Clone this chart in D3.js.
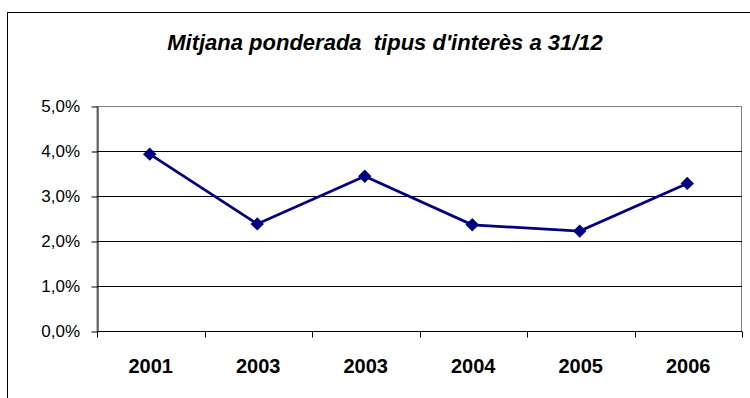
<!DOCTYPE html>
<html>
<head>
<meta charset="utf-8">
<script src="https://cdn.jsdelivr.net/npm/d3@7/dist/d3.min.js"></script>
<style>
  html, body { margin: 0; padding: 0; background: #fff; }
  svg { display: block; font-family: "Liberation Sans", Arial, sans-serif; }
</style>
</head>
<body>
<svg id="chart" width="750" height="398"></svg>
<script>
// Weighted average interest rate at 31/12 (%)
const categories = ["2001", "2003", "2003", "2004", "2005", "2006"];
const rates = [3.93, 2.38, 3.44, 2.36, 2.22, 3.28];
const yTicks = [0, 1, 2, 3, 4, 5];
const title = "Mitjana ponderada  tipus d'interès a 31/12";

const svg = d3.select("#chart");
const W = 750, H = 398;
const plot = { left: 97, right: 742, top: 106, bottom: 331 };

// outer chart frame
svg.append("rect")
  .attr("x", 7.5).attr("y", 12.5)
  .attr("width", W + 20).attr("height", H + 20)
  .attr("fill", "#fff").attr("stroke", "#000").attr("stroke-width", 1);

svg.append("text")
  .attr("x", 385).attr("y", 50)
  .attr("text-anchor", "middle")
  .attr("font-size", 22).attr("font-weight", "bold").attr("font-style", "italic")
  .attr("fill", "#000")
  .style("white-space", "pre")
  .text(title);

const idx = categories.map((_, i) => i);
const x = d3.scaleBand().domain(idx).range([plot.left, plot.right]);
const y = d3.scaleLinear().domain([0, 5]).range([plot.bottom, plot.top]);

// plot area border (grey)
svg.append("rect")
  .attr("x", plot.left).attr("y", plot.top + 0.5)
  .attr("width", plot.right - plot.left - 0.5)
  .attr("height", plot.bottom - plot.top)
  .attr("fill", "none").attr("stroke", "#808080").attr("stroke-width", 1);

// horizontal gridlines
svg.append("g")
  .selectAll("line")
  .data(yTicks.filter(t => t > 0 && t < 5))
  .join("line")
  .attr("x1", plot.left).attr("x2", plot.right)
  .attr("y1", d => Math.round(y(d)) + 0.5).attr("y2", d => Math.round(y(d)) + 0.5)
  .attr("stroke", "#000").attr("stroke-width", 1);

// y axis line and ticks
const yAxis = svg.append("g")
  .attr("transform", `translate(${plot.left + 0.5},0.5)`)
  .call(d3.axisLeft(y).tickValues(yTicks).tickFormat("").tickSize(6).tickSizeOuter(0));
yAxis.select(".domain").attr("stroke", "#000");
yAxis.selectAll(".tick line").attr("stroke", "#000");

// y tick labels
const fmt = d => d3.format(".1f")(d).replace(".", ",") + "%";
svg.append("g")
  .selectAll("text")
  .data(yTicks)
  .join("text")
  .attr("x", 80)
  .attr("y", d => y(d))
  .attr("dy", "0.36em")
  .attr("text-anchor", "end")
  .attr("font-size", 17)
  .attr("fill", "#000")
  .text(fmt);

// x axis: ticks between categories
const xAxis = svg.append("g")
  .attr("transform", `translate(0,${plot.bottom + 0.5})`);
xAxis.append("line")
  .attr("x1", plot.left).attr("x2", plot.right)
  .attr("stroke", "#000");
xAxis.selectAll("line.sep")
  .data(d3.range(categories.length + 1))
  .join("line").attr("class", "sep")
  .attr("x1", i => Math.round(plot.left + i * x.step()) + 0.5)
  .attr("x2", i => Math.round(plot.left + i * x.step()) + 0.5)
  .attr("y1", 0).attr("y2", 6)
  .attr("stroke", "#000");
xAxis.selectAll("text")
  .data(idx)
  .join("text")
  .attr("x", i => x(i) + x.bandwidth() / 2)
  .attr("y", 41)
  .attr("text-anchor", "middle")
  .attr("font-size", 20).attr("font-weight", "bold")
  .attr("fill", "#000")
  .text(i => categories[i]);

// series line
const cx = i => x(i) + x.bandwidth() / 2 - 1;
svg.append("path")
  .datum(idx)
  .attr("d", d3.line().x(cx).y(i => y(rates[i])))
  .attr("fill", "none").attr("stroke", "#000080").attr("stroke-width", 2.75);

// diamond markers
svg.append("g")
  .selectAll("path")
  .data(idx)
  .join("path")
  .attr("transform", i => `translate(${cx(i)},${y(rates[i])})`)
  .attr("d", d3.symbol().type(d3.symbolDiamond2).size(115))
  .attr("fill", "#000080");
</script>
</body>
</html>
